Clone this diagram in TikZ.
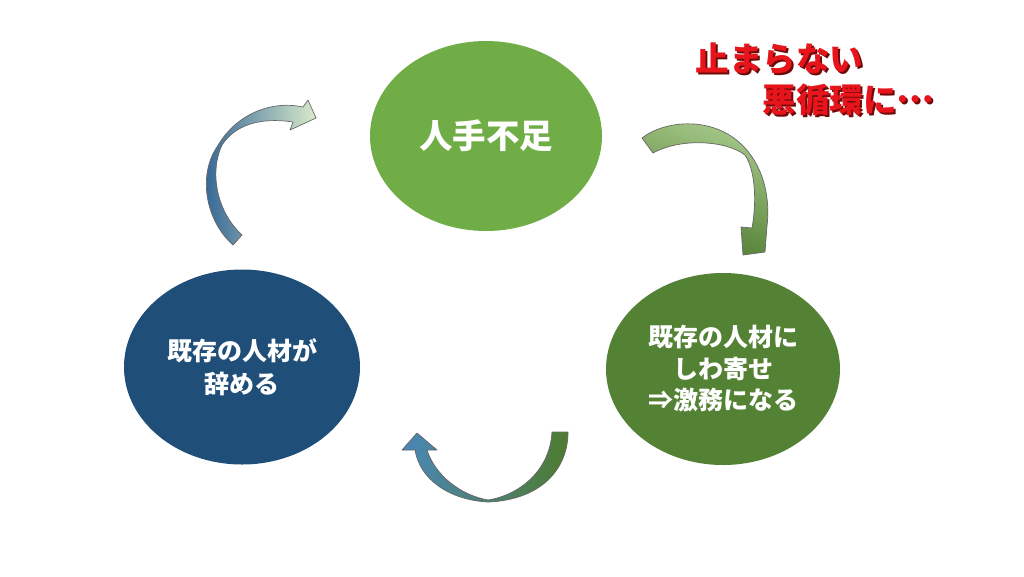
\documentclass[tikz,border=0pt]{standalone}
\usepackage{fontspec}
\setmainfont{Noto Sans CJK JP}
\usetikzlibrary{shapes.geometric}
\definecolor{vert}{HTML}{70AD47}
\definecolor{vertfonce}{HTML}{548235}
\definecolor{bleu}{HTML}{1F4E79}
\definecolor{rouge}{HTML}{E8141B}
\definecolor{rougefonce}{HTML}{6E0A0A}
\definecolor{bleufl}{HTML}{2C5F93}
\definecolor{bleuclair}{HTML}{4A87B8}
\definecolor{vertpale}{HTML}{D8EBCB}
\definecolor{vertclair}{HTML}{A9CB8C}
\definecolor{vertmoyen}{HTML}{93C474}
\definecolor{vertfl}{HTML}{4E7B30}
\newcommand{\pointsj}{\raisebox{0.3em}{…}}
\begin{document}
\begin{tikzpicture}[x=1pt, y=-1pt,
  bulle/.style={ellipse, inner sep=0pt, text=white, align=center},
  fleche/.style={draw=black!60, line width=0.7pt, line join=round},
  titre/.style={font=\fontsize{33.5}{38}\selectfont\bfseries}]
  \useasboundingbox[fill=white] (0,0) rectangle (1024,576);
  % Bulles
  \node[bulle, fill=vert, minimum width=232pt, minimum height=190pt,
    font=\fontsize{33.5}{38}\selectfont\bfseries] (manque) at (486,136) {人手不足};
  \node[bulle, fill=vertfonce, minimum width=234pt, minimum height=192pt,
    font=\fontsize{25}{31.5}\selectfont\bfseries] (charge) at (723,369)
    {既存の人材に\\しわ寄せ\\⇒激務になる};
  \node[bulle, fill=bleu, minimum width=236pt, minimum height=195pt,
    font=\fontsize{25}{33}\selectfont\bfseries] (depart) at (242,367)
    {既存の人材が\\辞める};
  % Fleches courbes
  \shadedraw[fleche, left color=bleufl, right color=vertpale]
    (233,245) .. controls (205,220) and (198,175) .. (217,147)
    .. controls (235,115) and (270,100) .. (303,107) -- (308,100) -- (316,118)
    -- (290,130) -- (293,122) .. controls (260,117) and (235,125) .. (222,145)
    .. controls (210,170) and (215,210) .. (242,235) -- cycle;
  \shadedraw[fleche, top color=vertclair, bottom color=vertfl, shading angle=-20]
    (642,138) .. controls (665,120) and (715,115) .. (745,148)
    .. controls (765,170) and (770,200) .. (767,226) -- (765,252) -- (743,255)
    -- (741,227) -- (752,228) .. controls (757,200) and (755,170) .. (745,155)
    .. controls (725,140) and (680,138) .. (653,153) -- cycle;
  \shadedraw[fleche, left color=bleuclair, middle color=vertmoyen, right color=vertfl]
    (552,432) -- (568,432) .. controls (568,470) and (540,500) .. (488,502)
    .. controls (450,500) and (420,480) .. (415,450) -- (402,450) -- (417,433)
    -- (437,450) -- (427,450) .. controls (435,475) and (460,495) .. (488,500)
    .. controls (520,495) and (550,470) .. (552,432) -- cycle;
  % Titre
  \node[titre, text=rougefonce] (titreA) at (781.5,60.5) {止まらない};
  \node[titre, text=rouge] (titreAbis) at (779.5,58.5) {止まらない};
  \node[titre, text=rougefonce] (titreB) at (850.5,101.5) {悪循環に\pointsj};
  \node[titre, text=rouge] (titreBbis) at (848.5,99.5) {悪循環に\pointsj};
\end{tikzpicture}
\end{document}
